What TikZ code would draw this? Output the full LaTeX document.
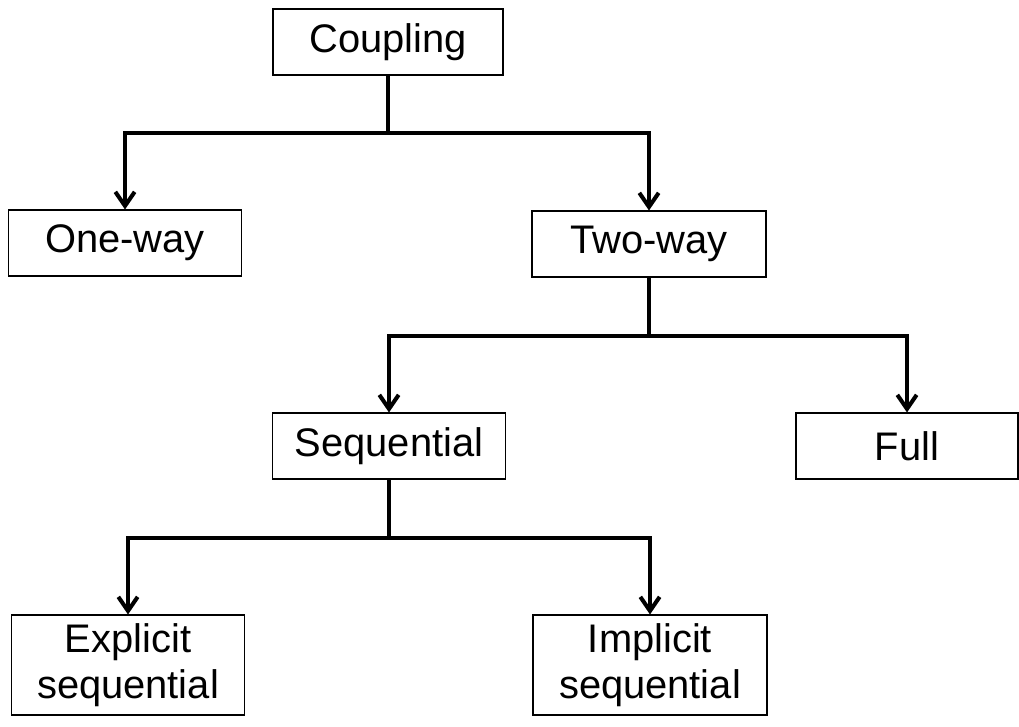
\documentclass[tikz,border=0pt]{standalone}
\usepackage{fontspec}
\setmainfont{Liberation Sans}
\usepackage{tikz}
\usetikzlibrary{arrows.meta,calc}
\tikzstyle{link}=[line width=2.3pt, -{Straight Barb[length=8pt,width=11pt,line width=2.3pt]}]
\tikzstyle{stem}=[line width=2.3pt]

\begin{document}
\begin{tikzpicture}[x=0.02cm,y=-0.02cm,
          box/.style={rectangle,draw=black,line width=0.6pt,align=center,
            inner sep=0pt,minimum height=1.32cm,font=\fontsize{22.7}{26}\selectfont},
          tallbox/.style={box,minimum height=2cm}]
        \useasboundingbox (0,0) rectangle (1019,727);
        \node [box,minimum width=4.6cm]      (coupling)   at (388,42)  {Coupling};
        \node [box,minimum width=4.66cm]     (oneway)     at (125,243) {One-way};
        \node [box,minimum width=4.68cm]     (twoway)     at (649,244) {Two-way};
        \node [box,minimum width=4.66cm]     (sequential) at (389,446) {Sequential};
        \node [box,minimum width=4.44cm]     (full)       at (907,446) {Full};
        \node [tallbox,minimum width=4.66cm] (explicit)   at (128,665) {Explicit\\sequential};
        \node [tallbox,minimum width=4.68cm] (implicit)   at (650,665) {Implicit\\sequential};
        \coordinate (j1) at (coupling.south |- 0,133);
        \coordinate (j2) at (twoway.south |- 0,336);
        \coordinate (j3) at (sequential.south |- 0,538);
        \draw [stem] (coupling.south) -- (j1);
        \draw [link] (j1) -| (oneway.north);
        \draw [link] (j1) -| (twoway.north);
        \draw [stem] (twoway.south) -- (j2);
        \draw [link] (j2) -| (sequential.north);
        \draw [link] (j2) -| (full.north);
        \draw [stem] (sequential.south) -- (j3);
        \draw [link] (j3) -| (explicit.north);
        \draw [link] (j3) -| (implicit.north);
      \end{tikzpicture}
\end{document}
